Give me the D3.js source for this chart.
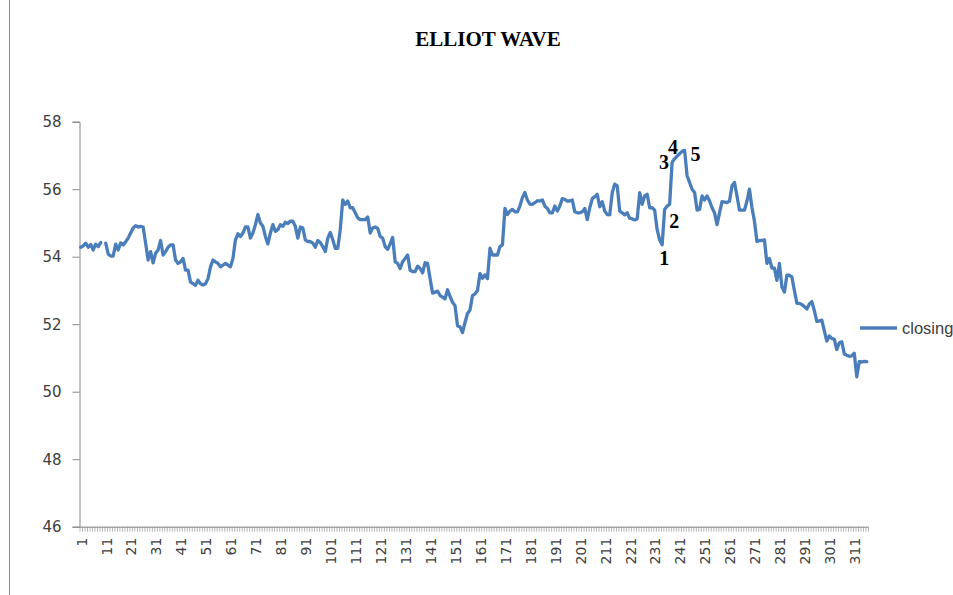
<!DOCTYPE html>
<html>
<head>
<meta charset="utf-8">
<script src="https://cdn.jsdelivr.net/npm/d3@7/dist/d3.min.js"></script>
<style>
  html, body { margin: 0; padding: 0; background: #fff; overflow: hidden; }
  svg { display: block; }
</style>
</head>
<body>
<svg id="chart" width="953" height="595"></svg>
<script>
// Daily closing prices (one value per trading day; null = missing day)
const closing = [
  54.28, 54.32, 54.40, 54.28, 54.36, 54.20, 54.37, 54.30, 54.42, null,
  54.40, 54.08, 54.02, 54.02, 54.37, 54.20, 54.41, 54.35, 54.44, 54.55,
  54.70, 54.85, 54.92, 54.88, 54.90, 54.88, 54.40, 53.90, 54.15, 53.82,
  54.10, 54.20, 54.48, 54.05, 54.15, 54.28, 54.35, 54.35, 53.90, 53.80,
  53.85, 53.95, 53.60, 53.60, 53.25, 53.20, 53.15, 53.30, 53.20, 53.16,
  53.20, 53.35, 53.70, 53.90, 53.85, 53.80, 53.70, 53.75, 53.80, 53.75,
  53.70, 53.95, 54.50, 54.68, 54.60, 54.70, 54.88, 54.88, 54.55, 54.70,
  54.95, 55.25, 55.00, 54.90, 54.60, 54.38, 54.70, 54.95, 54.75, 54.80,
  54.95, 54.90, 55.02, 54.98, 55.05, 55.05, 54.90, 54.55, 54.88, 54.85,
  54.50, 54.45, 54.45, 54.40, 54.28, 54.48, 54.42, 54.30, 54.15, 54.55,
  54.72, 54.50, 54.25, 54.25, 54.80, 55.68, 55.55, 55.65, 55.45, 55.45,
  55.30, 55.15, 55.10, 55.10, 55.10, 55.18, 54.70, 54.85, 54.88, 54.84,
  54.60, 54.55, 54.30, 54.22, 54.38, 54.57, 53.85, 53.80, 53.65, 53.85,
  53.95, 54.05, 53.60, 53.56, 53.56, 53.72, 53.65, 53.52, 53.82, 53.80,
  53.35, 52.92, 52.95, 52.98, 52.85, 52.80, 52.75, 53.02, 52.82, 52.65,
  52.55, 51.95, 51.92, 51.75, 52.05, 52.32, 52.42, 52.85, 52.90, 53.00,
  53.50, 53.36, 53.46, 53.35, 54.25, 54.05, 54.05, 54.05, 54.30, 54.35,
  55.43, 55.25, 55.35, 55.40, 55.33, 55.33, 55.50, 55.75, 55.90, 55.68,
  55.56, 55.55, 55.60, 55.66, 55.65, 55.68, 55.50, 55.43, 55.30, 55.30,
  55.50, 55.35, 55.50, 55.72, 55.70, 55.65, 55.65, 55.68, 55.33, 55.30,
  55.30, 55.33, 55.43, 55.10, 55.45, 55.72, 55.78, 55.85, 55.48, 55.63,
  55.35, 55.25, 55.24, 55.90, 56.15, 56.10, 55.35, 55.30, 55.24, 55.30,
  55.14, 55.12, 55.09, 55.12, 55.90, 55.55, 55.80, 55.85, 55.45, 55.45,
  55.38, 54.80, 54.50, 54.35, 55.40, 55.50, 55.55, 56.80, 56.90, 56.98,
  57.05, 57.12, 57.15, 56.40, 56.20, 56.00, 55.90, 55.38, 55.40, 55.80,
  55.68, 55.80, 55.65, 55.45, 55.30, 54.95, 55.30, 55.63, 55.62, 55.60,
  55.65, 56.10, 56.20, 55.80, 55.38, 55.38, 55.38, 55.65, 56.00, 55.45,
  55.05, 54.45, 54.48, 54.48, 54.50, 53.80, 53.95, 53.66, 53.66, 53.30,
  53.80, 53.10, 52.95, 53.45, 53.45, 53.40, 53.00, 52.62, 52.62, 52.58,
  52.52, 52.45, 52.60, 52.67, 52.40, 52.08, 52.10, 52.12, 51.80, 51.50,
  51.65, 51.58, 51.55, 51.25, 51.45, 51.48, 51.12, 51.08, 51.05, 51.06,
  51.14, 50.44, 50.89, 50.88, 50.90, 50.89
];

// Day numbers along the category axis
const days = closing.map((_, i) => i + 1);

// Every tenth day carries a label
const dayLabels = d3.range(1, days.length + 1, 10);

// Value axis ticks
const yTicks = [46, 48, 50, 52, 54, 56, 58];

// Elliott wave counts and the day each one marks
const waveLabels = ["1", "2", "3", "4", "5"];
const waveDays = [234, 236, 238, 240, 243];

const chartTitle = "ELLIOT WAVE";
const seriesName = "closing";

// ---- layout ----
const plot = { left: 79.5, right: 868, top: 121.7, bottom: 526.7 };
const waveOffsets = [[2, 20], [7, 22], [-8, 7], [-4, -2], [11, 11]];
const lineColor = "#4a7ebb";
const axisColor = "#868686";
const textColor = "#404040";

const svg = d3.select("#chart");

const x = d3.scaleLinear()
  .domain([0.5, days.length + 0.5])
  .range([plot.left, plot.right]);

const y = d3.scaleLinear()
  .domain([46, 58])
  .range([plot.bottom, plot.top]);

// outer chart frame
svg.append("rect")
  .attr("x", 9.5).attr("y", -5)
  .attr("width", 2000).attr("height", 2000)
  .attr("fill", "none")
  .attr("stroke", "#8c8c8c")
  .attr("stroke-width", 1);

// title
svg.append("text")
  .attr("x", 488).attr("y", 46)
  .attr("text-anchor", "middle")
  .attr("font-family", "'Times New Roman', 'Liberation Serif', serif")
  .attr("font-weight", "bold")
  .attr("font-size", 21)
  .attr("fill", "#000")
  .text(chartTitle);

// value axis
const yAxis = svg.append("g")
  .attr("transform", `translate(${plot.left},0)`)
  .call(d3.axisLeft(y).tickValues(yTicks).tickSize(7).tickPadding(11).tickFormat(d3.format("d")));
yAxis.select(".domain").attr("stroke", axisColor);
yAxis.selectAll(".tick line").attr("stroke", axisColor);
yAxis.selectAll(".tick text")
  .attr("font-family", "'DejaVu Sans', sans-serif")
  .attr("font-size", 15)
  .attr("fill", textColor);

// category axis: a tick between every pair of days
const xTickAxis = svg.append("g")
  .attr("transform", `translate(0,${plot.bottom})`)
  .call(d3.axisBottom(x)
    .tickValues(d3.range(0.5, days.length + 1, 1))
    .tickSize(5)
    .tickSizeOuter(0)
    .tickFormat(""));
xTickAxis.select(".domain").attr("stroke", axisColor);
xTickAxis.selectAll(".tick line").attr("stroke", axisColor).attr("stroke-width", 0.6);

// category labels, rotated
const xLabelAxis = svg.append("g")
  .attr("transform", `translate(0,${plot.bottom})`)
  .call(d3.axisBottom(x).tickValues(dayLabels).tickSize(0).tickFormat(d3.format("d")));
xLabelAxis.select(".domain").remove();
xLabelAxis.selectAll(".tick text")
  .attr("font-family", "'DejaVu Sans', sans-serif")
  .attr("font-size", 14)
  .attr("fill", textColor)
  .attr("text-anchor", "end")
  .attr("transform", "rotate(-90)")
  .attr("x", -11)
  .attr("y", 0)
  .attr("dy", "0.38em");

// price line
const line = d3.line()
  .defined(d => d.v !== null)
  .x(d => x(d.day))
  .y(d => y(d.v));

const series = days.map((day, i) => ({ day, v: closing[i] }));

svg.append("path")
  .datum(series)
  .attr("fill", "none")
  .attr("stroke", lineColor)
  .attr("stroke-width", 3.3)
  .attr("stroke-linejoin", "round")
  .attr("stroke-linecap", "round")
  .attr("d", line);

// wave count annotations
svg.append("g").selectAll("text")
  .data(waveLabels)
  .join("text")
  .attr("x", (d, i) => x(waveDays[i]) + waveOffsets[i][0])
  .attr("y", (d, i) => y(closing[waveDays[i] - 1]) + waveOffsets[i][1])
  .attr("text-anchor", "middle")
  .attr("font-family", "'Times New Roman', 'Liberation Serif', serif")
  .attr("font-weight", "bold")
  .attr("font-size", 20)
  .attr("fill", "#000")
  .text(d => d);

// legend
const legend = svg.append("g").attr("transform", "translate(860,328)");
legend.append("line")
  .attr("x1", 0).attr("x2", 37)
  .attr("y1", 0).attr("y2", 0)
  .attr("stroke", lineColor)
  .attr("stroke-width", 3.3);
legend.append("text")
  .attr("x", 42).attr("y", 0)
  .attr("dy", "0.35em")
  .attr("font-family", "'Liberation Sans', Arial, sans-serif")
  .attr("font-size", 16.5)
  .attr("fill", textColor)
  .text(seriesName);
</script>
</body>
</html>
